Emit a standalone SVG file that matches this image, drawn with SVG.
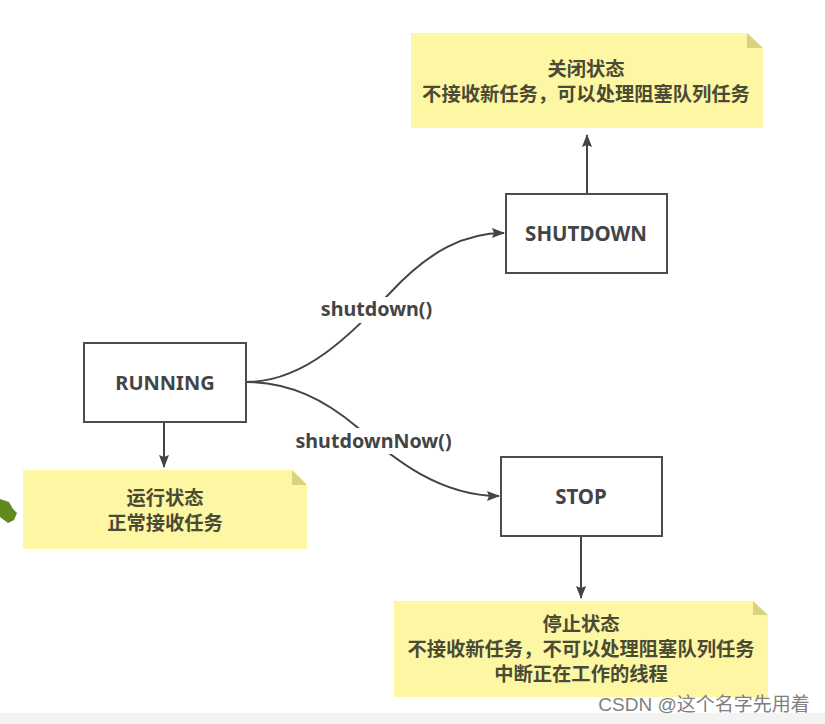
<svg xmlns="http://www.w3.org/2000/svg" width="825" height="724" viewBox="0 0 825 724">
<style>
.box{fill:#fff;stroke:#4d4d4d;stroke-width:2}
.note{fill:#fdf7a4}
.fold{fill:#d9d27f}
.c{fill:none;stroke:#444;stroke-width:2}
text{font-family:"Noto Sans","Noto Sans CJK SC",sans-serif;font-weight:700;fill:#444;text-anchor:middle}
.n{font-size:20.5px}
.t{font-size:19.300px;fill:#4a4a35}
.l{font-size:19.700px}
.bg{fill:#fff}
</style>
<defs>
<marker id="a" markerWidth="14" markerHeight="12" refX="12" refY="5" orient="auto" markerUnits="userSpaceOnUse"><path d="M0 0L13 5L0 10L2 5Z" fill="#444"/></marker>
</defs>
<rect width="825" height="724" fill="#fff"/>
<rect y="713" width="825" height="11" fill="#f3f3f3"/>
<g id="connectors">
<path class="c" d="M246 382C305 382 350 335 390 293C430 250 465 233 504 233" marker-end="url(#a)"/>
<path class="c" d="M246 382C290 382 325 400 357 427C395 460 440 496 499 496" marker-end="url(#a)"/>
<path class="c" d="M164 422V467" marker-end="url(#a)"/>
<path class="c" d="M587 194V135" marker-end="url(#a)"/>
<path class="c" d="M581 536V598" marker-end="url(#a)"/>
</g>
<g id="running"><rect class="box" x="84" y="343" width="162" height="79"/><text class="n" x="165" y="390" style="font-size:20px">RUNNING</text></g>
<g id="shutdown"><rect class="box" x="506" y="194" width="161" height="79"/><text class="n" x="586" y="241">SHUTDOWN</text></g>
<g id="stop"><rect class="box" x="501" y="457" width="161" height="79"/><text class="n" x="581" y="504">STOP</text></g>
<g id="note-running"><path class="note" d="M23 470H292L307 485V549H23Z"/><path class="fold" d="M292 470L307 485H292Z"/><text class="t" x="165" y="505">运行状态</text><text class="t" x="165" y="530">正常接收任务</text></g>
<g id="note-shutdown"><path class="note" d="M411 33H747L763 48V128H411Z"/><path class="fold" d="M747 33L763 48H747Z"/><text class="t" x="586" y="76">关闭状态</text><text class="t" x="586" y="101">不接收新任务，可以处理阻塞队列任务</text></g>
<g id="note-stop"><path class="note" d="M394 601H753L768 615V697H394Z"/><path class="fold" d="M753 601L768 615H753Z"/><text class="t" x="581" y="631">停止状态</text><text class="t" x="581" y="656">不接收新任务，不可以处理阻塞队列任务</text><text class="t" x="581" y="681">中断正在工作的线程</text></g>
<g id="labels"><rect class="bg" x="318" y="297" width="118" height="26"/><text class="l" x="376.500" y="316">shutdown()</text><rect class="bg" x="292" y="428" width="164" height="26"/><text class="l" x="373.500" y="448">shutdownNow()</text></g>
<path d="M0 499L9 502L13 509L17 513L14 520L8 523L0 517Z" fill="#5f8a1e"/>
<text x="704" y="711" style="font-family:'Liberation Sans','Noto Sans CJK SC',sans-serif;font-weight:400;font-size:19px;fill:#808080">CSDN @这个名字先用着</text>
</svg>
